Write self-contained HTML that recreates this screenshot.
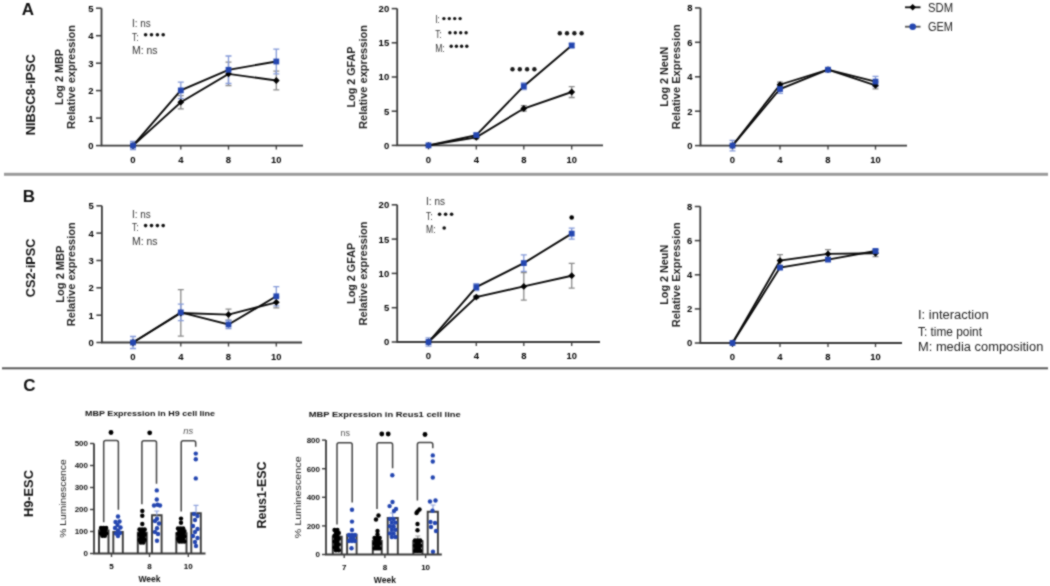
<!DOCTYPE html><html><head><meta charset="utf-8"><style>html,body{margin:0;padding:0;background:#fff;}svg{display:block;}#w{width:1050px;height:586px;will-change:transform;}text{font-family:"Liberation Sans", sans-serif;}</style></head><body>
<div id="w">
<svg width="1050" height="586" viewBox="0 0 1050 586">
<defs><filter id="bl" x="0" y="0" width="1050" height="586" filterUnits="userSpaceOnUse"><feConvolveMatrix color-interpolation-filters="sRGB" order="3" kernelMatrix="1 2 1 2 8 2 1 2 1" divisor="20" edgeMode="duplicate"/></filter></defs><g filter="url(#bl)">
<rect width="1050" height="586" fill="#fff"/>
<text x="28" y="15" font-size="17" font-weight="bold" text-anchor="middle" fill="#111">A</text>
<text x="29" y="201.5" font-size="17" font-weight="bold" text-anchor="middle" fill="#111">B</text>
<text x="29.5" y="391" font-size="17" font-weight="bold" text-anchor="middle" fill="#111">C</text>
<rect x="4" y="172.8" width="1044" height="3" fill="#9a9a9a"/>
<rect x="2" y="367.3" width="1046" height="2" fill="#5a5a5a"/>
<text x="35.5" y="94.7" font-size="13.5" font-weight="bold" text-anchor="middle" fill="#111" transform="rotate(-90 35.5 94.7)" textLength="81" lengthAdjust="spacingAndGlyphs">NIBSC8-iPSC</text>
<text x="35.5" y="267.9" font-size="13.5" font-weight="bold" text-anchor="middle" fill="#111" transform="rotate(-90 35.5 267.9)" textLength="58.5" lengthAdjust="spacingAndGlyphs">CS2-iPSC</text>
<text x="33.5" y="493.6" font-size="13.5" font-weight="bold" text-anchor="middle" fill="#111" transform="rotate(-90 33.5 493.6)" textLength="47" lengthAdjust="spacingAndGlyphs">H9-ESC</text>
<text x="266" y="495" font-size="13.5" font-weight="bold" text-anchor="middle" fill="#111" transform="rotate(-90 266 495)" textLength="67" lengthAdjust="spacingAndGlyphs">Reus1-ESC</text>
<path d="M101.5 8.2 V145.6 H303" stroke="#3a3a3a" stroke-width="1.8" fill="none"/>
<line x1="96.0" y1="145.6" x2="101.5" y2="145.6" stroke="#3a3a3a" stroke-width="1.5"/>
<text x="93.5" y="149.0" font-size="9.5" font-weight="bold" text-anchor="end" fill="#000" textLength="5.3" lengthAdjust="spacingAndGlyphs">0</text>
<line x1="96.0" y1="118.1" x2="101.5" y2="118.1" stroke="#3a3a3a" stroke-width="1.5"/>
<text x="93.5" y="121.52" font-size="9.5" font-weight="bold" text-anchor="end" fill="#000" textLength="5.3" lengthAdjust="spacingAndGlyphs">1</text>
<line x1="96.0" y1="90.6" x2="101.5" y2="90.6" stroke="#3a3a3a" stroke-width="1.5"/>
<text x="93.5" y="94.03999999999999" font-size="9.5" font-weight="bold" text-anchor="end" fill="#000" textLength="5.3" lengthAdjust="spacingAndGlyphs">2</text>
<line x1="96.0" y1="63.2" x2="101.5" y2="63.2" stroke="#3a3a3a" stroke-width="1.5"/>
<text x="93.5" y="66.56" font-size="9.5" font-weight="bold" text-anchor="end" fill="#000" textLength="5.3" lengthAdjust="spacingAndGlyphs">3</text>
<line x1="96.0" y1="35.7" x2="101.5" y2="35.7" stroke="#3a3a3a" stroke-width="1.5"/>
<text x="93.5" y="39.07999999999999" font-size="9.5" font-weight="bold" text-anchor="end" fill="#000" textLength="5.3" lengthAdjust="spacingAndGlyphs">4</text>
<line x1="96.0" y1="8.2" x2="101.5" y2="8.2" stroke="#3a3a3a" stroke-width="1.5"/>
<text x="93.5" y="11.599999999999989" font-size="9.5" font-weight="bold" text-anchor="end" fill="#000" textLength="5.3" lengthAdjust="spacingAndGlyphs">5</text>
<line x1="133" y1="145.6" x2="133" y2="149.6" stroke="#3a3a3a" stroke-width="1.3"/>
<text x="133" y="163.0" font-size="9.5" font-weight="bold" text-anchor="middle" fill="#000" textLength="5.3" lengthAdjust="spacingAndGlyphs">0</text>
<line x1="180.8" y1="145.6" x2="180.8" y2="149.6" stroke="#3a3a3a" stroke-width="1.3"/>
<text x="180.8" y="163.0" font-size="9.5" font-weight="bold" text-anchor="middle" fill="#000" textLength="5.3" lengthAdjust="spacingAndGlyphs">4</text>
<line x1="228.5" y1="145.6" x2="228.5" y2="149.6" stroke="#3a3a3a" stroke-width="1.3"/>
<text x="228.5" y="163.0" font-size="9.5" font-weight="bold" text-anchor="middle" fill="#000" textLength="5.3" lengthAdjust="spacingAndGlyphs">8</text>
<line x1="276.3" y1="145.6" x2="276.3" y2="149.6" stroke="#3a3a3a" stroke-width="1.3"/>
<text x="276.3" y="163.0" font-size="9.5" font-weight="bold" text-anchor="middle" fill="#000" textLength="10.4" lengthAdjust="spacingAndGlyphs">10</text>
<path d="M180.8 95.6 V108.8 M177.8 95.6 H183.8 M177.8 108.8 H183.8" stroke="#8a8a8a" stroke-width="1.3" fill="none"/>
<path d="M228.5 62.1 V85.7 M225.5 62.1 H231.5 M225.5 85.7 H231.5" stroke="#8a8a8a" stroke-width="1.3" fill="none"/>
<path d="M276.3 71.1 V89.8 M273.3 71.1 H279.3 M273.3 89.8 H279.3" stroke="#8a8a8a" stroke-width="1.3" fill="none"/>
<path d="M133 141.5 V149.7 M130 141.5 H136 M130 149.7 H136" stroke="#8499d8" stroke-width="1.3" fill="none"/>
<path d="M180.8 82.1 V98.6 M177.8 82.1 H183.8 M177.8 98.6 H183.8" stroke="#8499d8" stroke-width="1.3" fill="none"/>
<path d="M228.5 56.0 V83.5 M225.5 56.0 H231.5 M225.5 83.5 H231.5" stroke="#8499d8" stroke-width="1.3" fill="none"/>
<path d="M276.3 49.1 V73.9 M273.3 49.1 H279.3 M273.3 73.9 H279.3" stroke="#8499d8" stroke-width="1.3" fill="none"/>
<polyline points="133,145.6 180.8,102.2 228.5,73.9 276.3,80.5" stroke="#0a0a0a" stroke-width="1.9" fill="none"/>
<polyline points="133,145.6 180.8,90.4 228.5,69.8 276.3,61.5" stroke="#0a0a0a" stroke-width="1.9" fill="none"/>
<path d="M133 142.2 L136.4 145.6 L133 149.0 L129.6 145.6Z" fill="#000"/>
<path d="M180.8 98.8 L184.20000000000002 102.2 L180.8 105.6 L177.4 102.2Z" fill="#000"/>
<path d="M228.5 70.5 L231.9 73.9 L228.5 77.3 L225.1 73.9Z" fill="#000"/>
<path d="M276.3 77.1 L279.7 80.5 L276.3 83.9 L272.90000000000003 80.5Z" fill="#000"/>
<rect x="130.1" y="142.7" width="5.8" height="5.8" fill="#2446b0"/>
<rect x="177.9" y="87.5" width="5.8" height="5.8" fill="#2446b0"/>
<rect x="225.6" y="66.9" width="5.8" height="5.8" fill="#2446b0"/>
<rect x="273.40000000000003" y="58.6" width="5.8" height="5.8" fill="#2446b0"/>
<text x="63.5" y="76.89999999999999" font-size="10" font-weight="bold" text-anchor="middle" fill="#1a1a1a" transform="rotate(-90 63.5 76.89999999999999)" textLength="56" lengthAdjust="spacingAndGlyphs">Log 2 MBP</text>
<text x="75.0" y="76.89999999999999" font-size="10" font-weight="bold" text-anchor="middle" fill="#222" transform="rotate(-90 75.0 76.89999999999999)" textLength="104" lengthAdjust="spacingAndGlyphs">Relative expression</text>
<text x="132" y="26.6" font-size="10" font-weight="normal" text-anchor="start" fill="#333" textLength="18.7" lengthAdjust="spacingAndGlyphs">I: ns</text>
<text x="132" y="40.5" font-size="10" font-weight="normal" text-anchor="start" fill="#333" textLength="6.5" lengthAdjust="spacingAndGlyphs">T:</text>
<circle cx="145.6" cy="34.7" r="1.8" fill="#111"/>
<circle cx="151.5" cy="34.7" r="1.8" fill="#111"/>
<circle cx="157.4" cy="34.7" r="1.8" fill="#111"/>
<circle cx="163.2" cy="34.7" r="1.8" fill="#111"/>
<text x="132" y="54.4" font-size="10" font-weight="normal" text-anchor="start" fill="#333" textLength="25.5" lengthAdjust="spacingAndGlyphs">M: ns</text>
<path d="M397.2 8.6 V145.4 H603" stroke="#3a3a3a" stroke-width="1.8" fill="none"/>
<line x1="391.7" y1="145.4" x2="397.2" y2="145.4" stroke="#3a3a3a" stroke-width="1.5"/>
<text x="389.2" y="148.8" font-size="9.5" font-weight="bold" text-anchor="end" fill="#000" textLength="5.3" lengthAdjust="spacingAndGlyphs">0</text>
<line x1="391.7" y1="111.2" x2="397.2" y2="111.2" stroke="#3a3a3a" stroke-width="1.5"/>
<text x="389.2" y="114.60000000000001" font-size="9.5" font-weight="bold" text-anchor="end" fill="#000" textLength="5.3" lengthAdjust="spacingAndGlyphs">5</text>
<line x1="391.7" y1="77.0" x2="397.2" y2="77.0" stroke="#3a3a3a" stroke-width="1.5"/>
<text x="389.2" y="80.4" font-size="9.5" font-weight="bold" text-anchor="end" fill="#000" textLength="10.6" lengthAdjust="spacingAndGlyphs">10</text>
<line x1="391.7" y1="42.8" x2="397.2" y2="42.8" stroke="#3a3a3a" stroke-width="1.5"/>
<text x="389.2" y="46.199999999999996" font-size="9.5" font-weight="bold" text-anchor="end" fill="#000" textLength="10.6" lengthAdjust="spacingAndGlyphs">15</text>
<line x1="391.7" y1="8.6" x2="397.2" y2="8.6" stroke="#3a3a3a" stroke-width="1.5"/>
<text x="389.2" y="11.999999999999995" font-size="9.5" font-weight="bold" text-anchor="end" fill="#000" textLength="10.6" lengthAdjust="spacingAndGlyphs">20</text>
<line x1="428.5" y1="145.4" x2="428.5" y2="149.4" stroke="#3a3a3a" stroke-width="1.3"/>
<text x="428.5" y="162.8" font-size="9.5" font-weight="bold" text-anchor="middle" fill="#000" textLength="5.3" lengthAdjust="spacingAndGlyphs">0</text>
<line x1="476.3" y1="145.4" x2="476.3" y2="149.4" stroke="#3a3a3a" stroke-width="1.3"/>
<text x="476.3" y="162.8" font-size="9.5" font-weight="bold" text-anchor="middle" fill="#000" textLength="5.3" lengthAdjust="spacingAndGlyphs">4</text>
<line x1="523.8" y1="145.4" x2="523.8" y2="149.4" stroke="#3a3a3a" stroke-width="1.3"/>
<text x="523.8" y="162.8" font-size="9.5" font-weight="bold" text-anchor="middle" fill="#000" textLength="5.3" lengthAdjust="spacingAndGlyphs">8</text>
<line x1="571.7" y1="145.4" x2="571.7" y2="149.4" stroke="#3a3a3a" stroke-width="1.3"/>
<text x="571.7" y="162.8" font-size="9.5" font-weight="bold" text-anchor="middle" fill="#000" textLength="10.4" lengthAdjust="spacingAndGlyphs">10</text>
<path d="M476.3 136.0 V138.8 M473.3 136.0 H479.3 M473.3 138.8 H479.3" stroke="#8a8a8a" stroke-width="1.3" fill="none"/>
<path d="M523.8 105.7 V111.2 M520.8 105.7 H526.8 M520.8 111.2 H526.8" stroke="#8a8a8a" stroke-width="1.3" fill="none"/>
<path d="M571.7 86.6 V97.5 M568.7 86.6 H574.7 M568.7 97.5 H574.7" stroke="#8a8a8a" stroke-width="1.3" fill="none"/>
<path d="M476.3 133.8 V136.5 M473.3 133.8 H479.3 M473.3 136.5 H479.3" stroke="#8499d8" stroke-width="1.3" fill="none"/>
<path d="M523.8 82.8 V89.7 M520.8 82.8 H526.8 M520.8 89.7 H526.8" stroke="#8499d8" stroke-width="1.3" fill="none"/>
<path d="M571.7 43.5 V47.6 M568.7 43.5 H574.7 M568.7 47.6 H574.7" stroke="#8499d8" stroke-width="1.3" fill="none"/>
<polyline points="428.5,145.4 476.3,137.4 523.8,108.5 571.7,92.0" stroke="#0a0a0a" stroke-width="1.9" fill="none"/>
<polyline points="428.5,145.4 476.3,135.1 523.8,86.2 571.7,45.5" stroke="#0a0a0a" stroke-width="1.9" fill="none"/>
<path d="M428.5 142.0 L431.9 145.4 L428.5 148.8 L425.1 145.4Z" fill="#000"/>
<path d="M476.3 134.0 L479.7 137.4 L476.3 140.8 L472.90000000000003 137.4Z" fill="#000"/>
<path d="M523.8 105.1 L527.1999999999999 108.5 L523.8 111.9 L520.4 108.5Z" fill="#000"/>
<path d="M571.7 88.6 L575.1 92.0 L571.7 95.4 L568.3000000000001 92.0Z" fill="#000"/>
<rect x="425.6" y="142.5" width="5.8" height="5.8" fill="#2446b0"/>
<rect x="473.40000000000003" y="132.2" width="5.8" height="5.8" fill="#2446b0"/>
<rect x="520.9" y="83.3" width="5.8" height="5.8" fill="#2446b0"/>
<rect x="568.8000000000001" y="42.6" width="5.8" height="5.8" fill="#2446b0"/>
<text x="355.3" y="77.0" font-size="10" font-weight="bold" text-anchor="middle" fill="#1a1a1a" transform="rotate(-90 355.3 77.0)" textLength="61" lengthAdjust="spacingAndGlyphs">Log 2 GFAP</text>
<text x="366.8" y="77.0" font-size="10" font-weight="bold" text-anchor="middle" fill="#222" transform="rotate(-90 366.8 77.0)" textLength="104" lengthAdjust="spacingAndGlyphs">Relative expression</text>
<text x="435.2" y="23" font-size="10" font-weight="normal" text-anchor="start" fill="#333" textLength="4.5" lengthAdjust="spacingAndGlyphs">I:</text>
<circle cx="443.9" cy="18.6" r="1.7" fill="#111"/>
<circle cx="449.3" cy="18.6" r="1.7" fill="#111"/>
<circle cx="454.7" cy="18.6" r="1.7" fill="#111"/>
<circle cx="460.1" cy="18.6" r="1.7" fill="#111"/>
<text x="435.2" y="37.6" font-size="10" font-weight="normal" text-anchor="start" fill="#333" textLength="6.5" lengthAdjust="spacingAndGlyphs">T:</text>
<circle cx="449.9" cy="32.8" r="1.7" fill="#111"/>
<circle cx="455.3" cy="32.8" r="1.7" fill="#111"/>
<circle cx="460.7" cy="32.8" r="1.7" fill="#111"/>
<circle cx="466.1" cy="32.8" r="1.7" fill="#111"/>
<text x="435.2" y="51.5" font-size="10" font-weight="normal" text-anchor="start" fill="#333" textLength="9.5" lengthAdjust="spacingAndGlyphs">M:</text>
<circle cx="451.2" cy="46.3" r="1.7" fill="#111"/>
<circle cx="456.4" cy="46.3" r="1.7" fill="#111"/>
<circle cx="461.6" cy="46.3" r="1.7" fill="#111"/>
<circle cx="466.8" cy="46.3" r="1.7" fill="#111"/>
<circle cx="512.5" cy="69.3" r="2.2" fill="#1a1a1a"/>
<circle cx="519.8" cy="69.3" r="2.2" fill="#1a1a1a"/>
<circle cx="527.1" cy="69.3" r="2.2" fill="#1a1a1a"/>
<circle cx="534.4" cy="69.3" r="2.2" fill="#1a1a1a"/>
<circle cx="559.8" cy="33.3" r="2.2" fill="#1a1a1a"/>
<circle cx="567.0" cy="33.3" r="2.2" fill="#1a1a1a"/>
<circle cx="574.4" cy="33.3" r="2.2" fill="#1a1a1a"/>
<circle cx="581.6" cy="33.3" r="2.2" fill="#1a1a1a"/>
<path d="M700.5 7.9 V145.6 H907" stroke="#3a3a3a" stroke-width="1.8" fill="none"/>
<line x1="695.0" y1="145.6" x2="700.5" y2="145.6" stroke="#3a3a3a" stroke-width="1.5"/>
<text x="692.5" y="149.0" font-size="9.5" font-weight="bold" text-anchor="end" fill="#000" textLength="5.3" lengthAdjust="spacingAndGlyphs">0</text>
<line x1="695.0" y1="111.2" x2="700.5" y2="111.2" stroke="#3a3a3a" stroke-width="1.5"/>
<text x="692.5" y="114.575" font-size="9.5" font-weight="bold" text-anchor="end" fill="#000" textLength="5.3" lengthAdjust="spacingAndGlyphs">2</text>
<line x1="695.0" y1="76.8" x2="700.5" y2="76.8" stroke="#3a3a3a" stroke-width="1.5"/>
<text x="692.5" y="80.15" font-size="9.5" font-weight="bold" text-anchor="end" fill="#000" textLength="5.3" lengthAdjust="spacingAndGlyphs">4</text>
<line x1="695.0" y1="42.3" x2="700.5" y2="42.3" stroke="#3a3a3a" stroke-width="1.5"/>
<text x="692.5" y="45.725" font-size="9.5" font-weight="bold" text-anchor="end" fill="#000" textLength="5.3" lengthAdjust="spacingAndGlyphs">6</text>
<line x1="695.0" y1="7.9" x2="700.5" y2="7.9" stroke="#3a3a3a" stroke-width="1.5"/>
<text x="692.5" y="11.300000000000006" font-size="9.5" font-weight="bold" text-anchor="end" fill="#000" textLength="5.3" lengthAdjust="spacingAndGlyphs">8</text>
<line x1="732.5" y1="145.6" x2="732.5" y2="149.6" stroke="#3a3a3a" stroke-width="1.3"/>
<text x="732.5" y="163.0" font-size="9.5" font-weight="bold" text-anchor="middle" fill="#000" textLength="5.3" lengthAdjust="spacingAndGlyphs">0</text>
<line x1="780" y1="145.6" x2="780" y2="149.6" stroke="#3a3a3a" stroke-width="1.3"/>
<text x="780" y="163.0" font-size="9.5" font-weight="bold" text-anchor="middle" fill="#000" textLength="5.3" lengthAdjust="spacingAndGlyphs">4</text>
<line x1="828" y1="145.6" x2="828" y2="149.6" stroke="#3a3a3a" stroke-width="1.3"/>
<text x="828" y="163.0" font-size="9.5" font-weight="bold" text-anchor="middle" fill="#000" textLength="5.3" lengthAdjust="spacingAndGlyphs">8</text>
<line x1="875.5" y1="145.6" x2="875.5" y2="149.6" stroke="#3a3a3a" stroke-width="1.3"/>
<text x="875.5" y="163.0" font-size="9.5" font-weight="bold" text-anchor="middle" fill="#000" textLength="10.4" lengthAdjust="spacingAndGlyphs">10</text>
<path d="M780 82.1 V87.2 M777 82.1 H783 M777 87.2 H783" stroke="#8a8a8a" stroke-width="1.3" fill="none"/>
<path d="M828 68.8 V70.6 M825 68.8 H831 M825 70.6 H831" stroke="#8a8a8a" stroke-width="1.3" fill="none"/>
<path d="M875.5 81.9 V88.8 M872.5 81.9 H878.5 M872.5 88.8 H878.5" stroke="#8a8a8a" stroke-width="1.3" fill="none"/>
<path d="M732.5 140.4 V150.8 M729.5 140.4 H735.5 M729.5 150.8 H735.5" stroke="#8499d8" stroke-width="1.3" fill="none"/>
<path d="M780 84.7 V93.3 M777 84.7 H783 M777 93.3 H783" stroke="#8499d8" stroke-width="1.3" fill="none"/>
<path d="M828 68.8 V70.6 M825 68.8 H831 M825 70.6 H831" stroke="#8499d8" stroke-width="1.3" fill="none"/>
<path d="M875.5 76.4 V86.7 M872.5 76.4 H878.5 M872.5 86.7 H878.5" stroke="#8499d8" stroke-width="1.3" fill="none"/>
<polyline points="732.5,145.6 780,84.7 828,69.7 875.5,85.4" stroke="#0a0a0a" stroke-width="1.9" fill="none"/>
<polyline points="732.5,145.6 780,89.0 828,69.7 875.5,81.6" stroke="#0a0a0a" stroke-width="1.9" fill="none"/>
<path d="M732.5 142.2 L735.9 145.6 L732.5 149.0 L729.1 145.6Z" fill="#000"/>
<path d="M780 81.3 L783.4 84.7 L780 88.1 L776.6 84.7Z" fill="#000"/>
<path d="M828 66.3 L831.4 69.7 L828 73.1 L824.6 69.7Z" fill="#000"/>
<path d="M875.5 82.0 L878.9 85.4 L875.5 88.8 L872.1 85.4Z" fill="#000"/>
<rect x="729.6" y="142.7" width="5.8" height="5.8" fill="#2446b0"/>
<rect x="777.1" y="86.1" width="5.8" height="5.8" fill="#2446b0"/>
<rect x="825.1" y="66.8" width="5.8" height="5.8" fill="#2446b0"/>
<rect x="872.6" y="78.7" width="5.8" height="5.8" fill="#2446b0"/>
<text x="668" y="76.75" font-size="10" font-weight="bold" text-anchor="middle" fill="#1a1a1a" transform="rotate(-90 668 76.75)" textLength="60" lengthAdjust="spacingAndGlyphs">Log 2 NeuN</text>
<text x="679.5" y="76.75" font-size="10" font-weight="bold" text-anchor="middle" fill="#222" transform="rotate(-90 679.5 76.75)" textLength="105" lengthAdjust="spacingAndGlyphs">Relative Expression</text>
<line x1="905" y1="7.3" x2="920.5" y2="7.3" stroke="#111" stroke-width="1.8"/>
<path d="M912.7 4 L916 7.3 L912.7 10.6 L909.4 7.3Z" fill="#000"/>
<line x1="905" y1="26.7" x2="920.5" y2="26.7" stroke="#555" stroke-width="1.8"/>
<circle cx="912.7" cy="26.7" r="3.3" fill="#2446b0"/>
<text x="928" y="11.5" font-size="12.5" font-weight="normal" text-anchor="start" fill="#222" textLength="25" lengthAdjust="spacingAndGlyphs">SDM</text>
<text x="928" y="30.8" font-size="12.5" font-weight="normal" text-anchor="start" fill="#222" textLength="25" lengthAdjust="spacingAndGlyphs">GEM</text>
<path d="M101.9 205.8 V342.5 H302" stroke="#3a3a3a" stroke-width="1.8" fill="none"/>
<line x1="96.4" y1="342.5" x2="101.9" y2="342.5" stroke="#3a3a3a" stroke-width="1.5"/>
<text x="93.9" y="345.9" font-size="9.5" font-weight="bold" text-anchor="end" fill="#000" textLength="5.3" lengthAdjust="spacingAndGlyphs">0</text>
<line x1="96.4" y1="315.2" x2="101.9" y2="315.2" stroke="#3a3a3a" stroke-width="1.5"/>
<text x="93.9" y="318.56" font-size="9.5" font-weight="bold" text-anchor="end" fill="#000" textLength="5.3" lengthAdjust="spacingAndGlyphs">1</text>
<line x1="96.4" y1="287.8" x2="101.9" y2="287.8" stroke="#3a3a3a" stroke-width="1.5"/>
<text x="93.9" y="291.21999999999997" font-size="9.5" font-weight="bold" text-anchor="end" fill="#000" textLength="5.3" lengthAdjust="spacingAndGlyphs">2</text>
<line x1="96.4" y1="260.5" x2="101.9" y2="260.5" stroke="#3a3a3a" stroke-width="1.5"/>
<text x="93.9" y="263.88" font-size="9.5" font-weight="bold" text-anchor="end" fill="#000" textLength="5.3" lengthAdjust="spacingAndGlyphs">3</text>
<line x1="96.4" y1="233.1" x2="101.9" y2="233.1" stroke="#3a3a3a" stroke-width="1.5"/>
<text x="93.9" y="236.54000000000002" font-size="9.5" font-weight="bold" text-anchor="end" fill="#000" textLength="5.3" lengthAdjust="spacingAndGlyphs">4</text>
<line x1="96.4" y1="205.8" x2="101.9" y2="205.8" stroke="#3a3a3a" stroke-width="1.5"/>
<text x="93.9" y="209.20000000000002" font-size="9.5" font-weight="bold" text-anchor="end" fill="#000" textLength="5.3" lengthAdjust="spacingAndGlyphs">5</text>
<line x1="133" y1="342.5" x2="133" y2="346.5" stroke="#3a3a3a" stroke-width="1.3"/>
<text x="133" y="359.9" font-size="9.5" font-weight="bold" text-anchor="middle" fill="#000" textLength="5.3" lengthAdjust="spacingAndGlyphs">0</text>
<line x1="180.8" y1="342.5" x2="180.8" y2="346.5" stroke="#3a3a3a" stroke-width="1.3"/>
<text x="180.8" y="359.9" font-size="9.5" font-weight="bold" text-anchor="middle" fill="#000" textLength="5.3" lengthAdjust="spacingAndGlyphs">4</text>
<line x1="228.5" y1="342.5" x2="228.5" y2="346.5" stroke="#3a3a3a" stroke-width="1.3"/>
<text x="228.5" y="359.9" font-size="9.5" font-weight="bold" text-anchor="middle" fill="#000" textLength="5.3" lengthAdjust="spacingAndGlyphs">8</text>
<line x1="276.3" y1="342.5" x2="276.3" y2="346.5" stroke="#3a3a3a" stroke-width="1.3"/>
<text x="276.3" y="359.9" font-size="9.5" font-weight="bold" text-anchor="middle" fill="#000" textLength="10.4" lengthAdjust="spacingAndGlyphs">10</text>
<path d="M180.8 289.7 V336.2 M177.8 289.7 H183.8 M177.8 336.2 H183.8" stroke="#8a8a8a" stroke-width="1.3" fill="none"/>
<path d="M228.5 309.1 V320.1 M225.5 309.1 H231.5 M225.5 320.1 H231.5" stroke="#8a8a8a" stroke-width="1.3" fill="none"/>
<path d="M276.3 296.8 V307.8 M273.3 296.8 H279.3 M273.3 307.8 H279.3" stroke="#8a8a8a" stroke-width="1.3" fill="none"/>
<path d="M133 336.5 V348.5 M130 336.5 H136 M130 348.5 H136" stroke="#8499d8" stroke-width="1.3" fill="none"/>
<path d="M180.8 304.2 V320.6 M177.8 304.2 H183.8 M177.8 320.6 H183.8" stroke="#8499d8" stroke-width="1.3" fill="none"/>
<path d="M228.5 320.4 V328.6 M225.5 320.4 H231.5 M225.5 328.6 H231.5" stroke="#8499d8" stroke-width="1.3" fill="none"/>
<path d="M276.3 286.7 V305.9 M273.3 286.7 H279.3 M273.3 305.9 H279.3" stroke="#8499d8" stroke-width="1.3" fill="none"/>
<polyline points="133,342.5 180.8,313.0 228.5,314.6 276.3,302.3" stroke="#0a0a0a" stroke-width="1.9" fill="none"/>
<polyline points="133,342.5 180.8,312.4 228.5,324.5 276.3,296.3" stroke="#0a0a0a" stroke-width="1.9" fill="none"/>
<path d="M133 339.1 L136.4 342.5 L133 345.9 L129.6 342.5Z" fill="#000"/>
<path d="M180.8 309.6 L184.20000000000002 313.0 L180.8 316.4 L177.4 313.0Z" fill="#000"/>
<path d="M228.5 311.2 L231.9 314.6 L228.5 318.0 L225.1 314.6Z" fill="#000"/>
<path d="M276.3 298.9 L279.7 302.3 L276.3 305.7 L272.90000000000003 302.3Z" fill="#000"/>
<rect x="130.1" y="339.6" width="5.8" height="5.8" fill="#2446b0"/>
<rect x="177.9" y="309.5" width="5.8" height="5.8" fill="#2446b0"/>
<rect x="225.6" y="321.6" width="5.8" height="5.8" fill="#2446b0"/>
<rect x="273.40000000000003" y="293.4" width="5.8" height="5.8" fill="#2446b0"/>
<text x="63.8" y="274.15" font-size="10" font-weight="bold" text-anchor="middle" fill="#1a1a1a" transform="rotate(-90 63.8 274.15)" textLength="57" lengthAdjust="spacingAndGlyphs">Log 2 MBP</text>
<text x="75.3" y="274.15" font-size="10" font-weight="bold" text-anchor="middle" fill="#222" transform="rotate(-90 75.3 274.15)" textLength="104" lengthAdjust="spacingAndGlyphs">Relative expression</text>
<text x="132" y="217.9" font-size="10" font-weight="normal" text-anchor="start" fill="#333" textLength="18.7" lengthAdjust="spacingAndGlyphs">I: ns</text>
<text x="132" y="231.4" font-size="10" font-weight="normal" text-anchor="start" fill="#333" textLength="6.5" lengthAdjust="spacingAndGlyphs">T:</text>
<circle cx="145.6" cy="225.6" r="1.8" fill="#111"/>
<circle cx="151.5" cy="225.6" r="1.8" fill="#111"/>
<circle cx="157.4" cy="225.6" r="1.8" fill="#111"/>
<circle cx="163.2" cy="225.6" r="1.8" fill="#111"/>
<text x="132" y="244.8" font-size="10" font-weight="normal" text-anchor="start" fill="#333" textLength="25.5" lengthAdjust="spacingAndGlyphs">M: ns</text>
<path d="M397.2 204.8 V342.0 H600" stroke="#3a3a3a" stroke-width="1.8" fill="none"/>
<line x1="391.7" y1="342.0" x2="397.2" y2="342.0" stroke="#3a3a3a" stroke-width="1.5"/>
<text x="389.2" y="345.4" font-size="9.5" font-weight="bold" text-anchor="end" fill="#000" textLength="5.3" lengthAdjust="spacingAndGlyphs">0</text>
<line x1="391.7" y1="307.7" x2="397.2" y2="307.7" stroke="#3a3a3a" stroke-width="1.5"/>
<text x="389.2" y="311.09999999999997" font-size="9.5" font-weight="bold" text-anchor="end" fill="#000" textLength="5.3" lengthAdjust="spacingAndGlyphs">5</text>
<line x1="391.7" y1="273.4" x2="397.2" y2="273.4" stroke="#3a3a3a" stroke-width="1.5"/>
<text x="389.2" y="276.79999999999995" font-size="9.5" font-weight="bold" text-anchor="end" fill="#000" textLength="10.6" lengthAdjust="spacingAndGlyphs">10</text>
<line x1="391.7" y1="239.1" x2="397.2" y2="239.1" stroke="#3a3a3a" stroke-width="1.5"/>
<text x="389.2" y="242.50000000000003" font-size="9.5" font-weight="bold" text-anchor="end" fill="#000" textLength="10.6" lengthAdjust="spacingAndGlyphs">15</text>
<line x1="391.7" y1="204.8" x2="397.2" y2="204.8" stroke="#3a3a3a" stroke-width="1.5"/>
<text x="389.2" y="208.20000000000002" font-size="9.5" font-weight="bold" text-anchor="end" fill="#000" textLength="10.6" lengthAdjust="spacingAndGlyphs">20</text>
<line x1="428.5" y1="342.0" x2="428.5" y2="346.0" stroke="#3a3a3a" stroke-width="1.3"/>
<text x="428.5" y="359.4" font-size="9.5" font-weight="bold" text-anchor="middle" fill="#000" textLength="5.3" lengthAdjust="spacingAndGlyphs">0</text>
<line x1="476.3" y1="342.0" x2="476.3" y2="346.0" stroke="#3a3a3a" stroke-width="1.3"/>
<text x="476.3" y="359.4" font-size="9.5" font-weight="bold" text-anchor="middle" fill="#000" textLength="5.3" lengthAdjust="spacingAndGlyphs">4</text>
<line x1="523.8" y1="342.0" x2="523.8" y2="346.0" stroke="#3a3a3a" stroke-width="1.3"/>
<text x="523.8" y="359.4" font-size="9.5" font-weight="bold" text-anchor="middle" fill="#000" textLength="5.3" lengthAdjust="spacingAndGlyphs">8</text>
<line x1="571.7" y1="342.0" x2="571.7" y2="346.0" stroke="#3a3a3a" stroke-width="1.3"/>
<text x="571.7" y="359.4" font-size="9.5" font-weight="bold" text-anchor="middle" fill="#000" textLength="10.4" lengthAdjust="spacingAndGlyphs">10</text>
<path d="M476.3 295.7 V298.4 M473.3 295.7 H479.3 M473.3 298.4 H479.3" stroke="#8a8a8a" stroke-width="1.3" fill="none"/>
<path d="M523.8 272.7 V300.2 M520.8 272.7 H526.8 M520.8 300.2 H526.8" stroke="#8a8a8a" stroke-width="1.3" fill="none"/>
<path d="M571.7 263.4 V288.1 M568.7 263.4 H574.7 M568.7 288.1 H574.7" stroke="#8a8a8a" stroke-width="1.3" fill="none"/>
<path d="M428.5 337.9 V346.1 M425.5 337.9 H431.5 M425.5 346.1 H431.5" stroke="#8499d8" stroke-width="1.3" fill="none"/>
<path d="M476.3 283.7 V290.6 M473.3 283.7 H479.3 M473.3 290.6 H479.3" stroke="#8499d8" stroke-width="1.3" fill="none"/>
<path d="M523.8 254.9 V271.3 M520.8 254.9 H526.8 M520.8 271.3 H526.8" stroke="#8499d8" stroke-width="1.3" fill="none"/>
<path d="M571.7 228.1 V239.1 M568.7 228.1 H574.7 M568.7 239.1 H574.7" stroke="#8499d8" stroke-width="1.3" fill="none"/>
<polyline points="428.5,342.0 476.3,297.1 523.8,286.4 571.7,275.7" stroke="#0a0a0a" stroke-width="1.9" fill="none"/>
<polyline points="428.5,342.0 476.3,287.1 523.8,263.1 571.7,233.6" stroke="#0a0a0a" stroke-width="1.9" fill="none"/>
<path d="M428.5 338.6 L431.9 342.0 L428.5 345.4 L425.1 342.0Z" fill="#000"/>
<path d="M476.3 293.7 L479.7 297.1 L476.3 300.5 L472.90000000000003 297.1Z" fill="#000"/>
<path d="M523.8 283.0 L527.1999999999999 286.4 L523.8 289.8 L520.4 286.4Z" fill="#000"/>
<path d="M571.7 272.3 L575.1 275.7 L571.7 279.1 L568.3000000000001 275.7Z" fill="#000"/>
<rect x="425.6" y="339.1" width="5.8" height="5.8" fill="#2446b0"/>
<rect x="473.40000000000003" y="284.2" width="5.8" height="5.8" fill="#2446b0"/>
<rect x="520.9" y="260.2" width="5.8" height="5.8" fill="#2446b0"/>
<rect x="568.8000000000001" y="230.7" width="5.8" height="5.8" fill="#2446b0"/>
<text x="355.3" y="273.4" font-size="10" font-weight="bold" text-anchor="middle" fill="#1a1a1a" transform="rotate(-90 355.3 273.4)" textLength="61" lengthAdjust="spacingAndGlyphs">Log 2 GFAP</text>
<text x="366.8" y="273.4" font-size="10" font-weight="bold" text-anchor="middle" fill="#222" transform="rotate(-90 366.8 273.4)" textLength="104" lengthAdjust="spacingAndGlyphs">Relative expression</text>
<text x="426.1" y="205.4" font-size="10" font-weight="normal" text-anchor="start" fill="#333" textLength="18.9" lengthAdjust="spacingAndGlyphs">I: ns</text>
<text x="426.1" y="219.6" font-size="10" font-weight="normal" text-anchor="start" fill="#333" textLength="6.5" lengthAdjust="spacingAndGlyphs">T:</text>
<circle cx="439.6" cy="214.2" r="1.8" fill="#111"/>
<circle cx="445.6" cy="214.2" r="1.8" fill="#111"/>
<circle cx="451.6" cy="214.2" r="1.8" fill="#111"/>
<text x="426.1" y="233" font-size="10" font-weight="normal" text-anchor="start" fill="#333" textLength="9.5" lengthAdjust="spacingAndGlyphs">M:</text>
<circle cx="444.2" cy="228" r="1.8" fill="#111"/>
<circle cx="571.7" cy="217.5" r="2.3" fill="#000"/>
<path d="M700.3 206.5 V343.0 H902" stroke="#3a3a3a" stroke-width="1.8" fill="none"/>
<line x1="694.8" y1="343.0" x2="700.3" y2="343.0" stroke="#3a3a3a" stroke-width="1.5"/>
<text x="692.3" y="346.4" font-size="9.5" font-weight="bold" text-anchor="end" fill="#000" textLength="5.3" lengthAdjust="spacingAndGlyphs">0</text>
<line x1="694.8" y1="308.9" x2="700.3" y2="308.9" stroke="#3a3a3a" stroke-width="1.5"/>
<text x="692.3" y="312.275" font-size="9.5" font-weight="bold" text-anchor="end" fill="#000" textLength="5.3" lengthAdjust="spacingAndGlyphs">2</text>
<line x1="694.8" y1="274.8" x2="700.3" y2="274.8" stroke="#3a3a3a" stroke-width="1.5"/>
<text x="692.3" y="278.15" font-size="9.5" font-weight="bold" text-anchor="end" fill="#000" textLength="5.3" lengthAdjust="spacingAndGlyphs">4</text>
<line x1="694.8" y1="240.6" x2="700.3" y2="240.6" stroke="#3a3a3a" stroke-width="1.5"/>
<text x="692.3" y="244.025" font-size="9.5" font-weight="bold" text-anchor="end" fill="#000" textLength="5.3" lengthAdjust="spacingAndGlyphs">6</text>
<line x1="694.8" y1="206.5" x2="700.3" y2="206.5" stroke="#3a3a3a" stroke-width="1.5"/>
<text x="692.3" y="209.9" font-size="9.5" font-weight="bold" text-anchor="end" fill="#000" textLength="5.3" lengthAdjust="spacingAndGlyphs">8</text>
<line x1="732.5" y1="343.0" x2="732.5" y2="347.0" stroke="#3a3a3a" stroke-width="1.3"/>
<text x="732.5" y="360.4" font-size="9.5" font-weight="bold" text-anchor="middle" fill="#000" textLength="5.3" lengthAdjust="spacingAndGlyphs">0</text>
<line x1="780" y1="343.0" x2="780" y2="347.0" stroke="#3a3a3a" stroke-width="1.3"/>
<text x="780" y="360.4" font-size="9.5" font-weight="bold" text-anchor="middle" fill="#000" textLength="5.3" lengthAdjust="spacingAndGlyphs">4</text>
<line x1="828" y1="343.0" x2="828" y2="347.0" stroke="#3a3a3a" stroke-width="1.3"/>
<text x="828" y="360.4" font-size="9.5" font-weight="bold" text-anchor="middle" fill="#000" textLength="5.3" lengthAdjust="spacingAndGlyphs">8</text>
<line x1="875.5" y1="343.0" x2="875.5" y2="347.0" stroke="#3a3a3a" stroke-width="1.3"/>
<text x="875.5" y="360.4" font-size="9.5" font-weight="bold" text-anchor="middle" fill="#000" textLength="10.4" lengthAdjust="spacingAndGlyphs">10</text>
<path d="M780 254.6 V266.6 M777 254.6 H783 M777 266.6 H783" stroke="#8a8a8a" stroke-width="1.3" fill="none"/>
<path d="M828 249.7 V258.2 M825 249.7 H831 M825 258.2 H831" stroke="#8a8a8a" stroke-width="1.3" fill="none"/>
<path d="M875.5 249.8 V256.7 M872.5 249.8 H878.5 M872.5 256.7 H878.5" stroke="#8a8a8a" stroke-width="1.3" fill="none"/>
<path d="M780 265.9 V269.3 M777 265.9 H783 M777 269.3 H783" stroke="#8499d8" stroke-width="1.3" fill="none"/>
<path d="M828 257.9 V261.3 M825 257.9 H831 M825 261.3 H831" stroke="#8499d8" stroke-width="1.3" fill="none"/>
<path d="M875.5 249.3 V252.7 M872.5 249.3 H878.5 M872.5 252.7 H878.5" stroke="#8499d8" stroke-width="1.3" fill="none"/>
<polyline points="732.5,343.0 780,260.6 828,253.9 875.5,253.3" stroke="#0a0a0a" stroke-width="1.9" fill="none"/>
<polyline points="732.5,343.0 780,267.6 828,259.6 875.5,251.0" stroke="#0a0a0a" stroke-width="1.9" fill="none"/>
<path d="M732.5 339.6 L735.9 343.0 L732.5 346.4 L729.1 343.0Z" fill="#000"/>
<path d="M780 257.2 L783.4 260.6 L780 264.0 L776.6 260.6Z" fill="#000"/>
<path d="M828 250.5 L831.4 253.9 L828 257.3 L824.6 253.9Z" fill="#000"/>
<path d="M875.5 249.9 L878.9 253.3 L875.5 256.7 L872.1 253.3Z" fill="#000"/>
<rect x="729.6" y="340.1" width="5.8" height="5.8" fill="#2446b0"/>
<rect x="777.1" y="264.7" width="5.8" height="5.8" fill="#2446b0"/>
<rect x="825.1" y="256.7" width="5.8" height="5.8" fill="#2446b0"/>
<rect x="872.6" y="248.1" width="5.8" height="5.8" fill="#2446b0"/>
<text x="668" y="274.75" font-size="10" font-weight="bold" text-anchor="middle" fill="#1a1a1a" transform="rotate(-90 668 274.75)" textLength="60" lengthAdjust="spacingAndGlyphs">Log 2 NeuN</text>
<text x="679.5" y="274.75" font-size="10" font-weight="bold" text-anchor="middle" fill="#222" transform="rotate(-90 679.5 274.75)" textLength="105" lengthAdjust="spacingAndGlyphs">Relative Expression</text>
<text x="918" y="318.7" font-size="12" font-weight="normal" text-anchor="start" fill="#222" textLength="70.7" lengthAdjust="spacingAndGlyphs">I: interaction</text>
<text x="918" y="336" font-size="12" font-weight="normal" text-anchor="start" fill="#222" textLength="64" lengthAdjust="spacingAndGlyphs">T: time point</text>
<text x="918" y="351.3" font-size="12" font-weight="normal" text-anchor="start" fill="#222" textLength="125.3" lengthAdjust="spacingAndGlyphs">M: media composition</text>
<path d="M103.7 522.2 V442.5 Q103.7 440.5 105.7 440.5 H116.4 Q118.4 440.5 118.4 442.5 V509.7" stroke="#444" stroke-width="1.5" fill="none"/>
<path d="M141.9 504.3 V442.7 Q141.9 440.7 143.9 440.7 H154.5 Q156.5 440.7 156.5 442.7 V483.7" stroke="#444" stroke-width="1.5" fill="none"/>
<path d="M181.2 511.5 V442.7 Q181.2 440.7 183.2 440.7 H193.7 Q195.7 440.7 195.7 442.7 V446.7" stroke="#444" stroke-width="1.5" fill="none"/>
<path d="M99 553.5 V530.4 H108.5 V553.5" stroke="#333" stroke-width="1.9" fill="#fff"/>
<path d="M113.3 553.5 V531.9 H122.8 V553.5" stroke="#3a3a3a" stroke-width="1.9" fill="#fff"/>
<path d="M137.8 553.5 V532.6 H146.7 V553.5" stroke="#333" stroke-width="1.9" fill="#fff"/>
<path d="M152 553.5 V515.3 H161.6 V553.5" stroke="#3a3a3a" stroke-width="1.9" fill="#fff"/>
<path d="M176.3 553.5 V533.3 H186.5 V553.5" stroke="#333" stroke-width="1.9" fill="#fff"/>
<path d="M191.3 553.5 V513.3 H200.8 V553.5" stroke="#3a3a3a" stroke-width="1.9" fill="#fff"/>
<path d="M196 513.5 V505.3 M193.5 505.3 H198.5" stroke="#8fa2dc" stroke-width="1.2" fill="none"/>
<path d="M156.8 515.5 V511 M154.3 511 H159.3" stroke="#8fa2dc" stroke-width="1.2" fill="none"/>
<circle cx="101.0" cy="528" r="2.2" fill="#000"/>
<circle cx="103.6" cy="528" r="2.2" fill="#000"/>
<circle cx="106.2" cy="528" r="2.2" fill="#000"/>
<circle cx="102.3" cy="530.6" r="2.2" fill="#000"/>
<circle cx="104.9" cy="530.6" r="2.2" fill="#000"/>
<circle cx="101.0" cy="533.2" r="2.2" fill="#000"/>
<circle cx="103.6" cy="533.2" r="2.2" fill="#000"/>
<circle cx="106.2" cy="533.2" r="2.2" fill="#000"/>
<circle cx="102.3" cy="535.8" r="2.2" fill="#000"/>
<circle cx="104.9" cy="535.8" r="2.2" fill="#000"/>
<circle cx="115.5" cy="522" r="2.2" fill="#2446b0"/>
<circle cx="119.5" cy="521.5" r="2.2" fill="#2446b0"/>
<circle cx="117.5" cy="525" r="2.2" fill="#2446b0"/>
<circle cx="115" cy="528" r="2.2" fill="#2446b0"/>
<circle cx="120.5" cy="527.5" r="2.2" fill="#2446b0"/>
<circle cx="118" cy="530.5" r="2.2" fill="#2446b0"/>
<circle cx="116" cy="533.5" r="2.2" fill="#2446b0"/>
<circle cx="120" cy="533" r="2.2" fill="#2446b0"/>
<circle cx="118" cy="536" r="2.2" fill="#2446b0"/>
<circle cx="118" cy="516.5" r="2.2" fill="#2446b0"/>
<circle cx="142.3" cy="510.9" r="2.2" fill="#000"/>
<circle cx="142.3" cy="515.7" r="2.2" fill="#000"/>
<circle cx="142.3" cy="524" r="2.2" fill="#000"/>
<circle cx="139.5" cy="529.5" r="2.2" fill="#000"/>
<circle cx="142.1" cy="529.5" r="2.2" fill="#000"/>
<circle cx="144.7" cy="529.5" r="2.2" fill="#000"/>
<circle cx="140.8" cy="532.1" r="2.2" fill="#000"/>
<circle cx="143.4" cy="532.1" r="2.2" fill="#000"/>
<circle cx="139.5" cy="534.7" r="2.2" fill="#000"/>
<circle cx="142.1" cy="534.7" r="2.2" fill="#000"/>
<circle cx="144.7" cy="534.7" r="2.2" fill="#000"/>
<circle cx="140.8" cy="537.3" r="2.2" fill="#000"/>
<circle cx="143.4" cy="537.3" r="2.2" fill="#000"/>
<circle cx="139.5" cy="539.9" r="2.2" fill="#000"/>
<circle cx="142.1" cy="539.9" r="2.2" fill="#000"/>
<circle cx="144.7" cy="539.9" r="2.2" fill="#000"/>
<circle cx="140.8" cy="542.5" r="2.2" fill="#000"/>
<circle cx="143.4" cy="542.5" r="2.2" fill="#000"/>
<circle cx="156.8" cy="490.4" r="2.2" fill="#2446b0"/>
<circle cx="156.8" cy="499.5" r="2.2" fill="#2446b0"/>
<circle cx="154" cy="505.5" r="2.2" fill="#2446b0"/>
<circle cx="157.5" cy="504.8" r="2.2" fill="#2446b0"/>
<circle cx="160" cy="505.5" r="2.2" fill="#2446b0"/>
<circle cx="157" cy="518.7" r="2.2" fill="#2446b0"/>
<circle cx="155" cy="521" r="2.2" fill="#2446b0"/>
<circle cx="159" cy="523.5" r="2.2" fill="#2446b0"/>
<circle cx="157" cy="528.2" r="2.2" fill="#2446b0"/>
<circle cx="155" cy="532" r="2.2" fill="#2446b0"/>
<circle cx="158" cy="534" r="2.2" fill="#2446b0"/>
<circle cx="157" cy="540.7" r="2.2" fill="#2446b0"/>
<circle cx="181" cy="518.6" r="2.2" fill="#000"/>
<circle cx="181" cy="522.8" r="2.2" fill="#000"/>
<circle cx="178.0" cy="528.5" r="2.2" fill="#000"/>
<circle cx="180.6" cy="528.5" r="2.2" fill="#000"/>
<circle cx="183.2" cy="528.5" r="2.2" fill="#000"/>
<circle cx="179.3" cy="531.1" r="2.2" fill="#000"/>
<circle cx="181.9" cy="531.1" r="2.2" fill="#000"/>
<circle cx="184.5" cy="531.1" r="2.2" fill="#000"/>
<circle cx="178.0" cy="533.7" r="2.2" fill="#000"/>
<circle cx="180.6" cy="533.7" r="2.2" fill="#000"/>
<circle cx="183.2" cy="533.7" r="2.2" fill="#000"/>
<circle cx="179.3" cy="536.3" r="2.2" fill="#000"/>
<circle cx="181.9" cy="536.3" r="2.2" fill="#000"/>
<circle cx="184.5" cy="536.3" r="2.2" fill="#000"/>
<circle cx="178.0" cy="538.9" r="2.2" fill="#000"/>
<circle cx="180.6" cy="538.9" r="2.2" fill="#000"/>
<circle cx="183.2" cy="538.9" r="2.2" fill="#000"/>
<circle cx="179.3" cy="541.5" r="2.2" fill="#000"/>
<circle cx="181.9" cy="541.5" r="2.2" fill="#000"/>
<circle cx="184.5" cy="541.5" r="2.2" fill="#000"/>
<circle cx="195.8" cy="453.6" r="2.2" fill="#2446b0"/>
<circle cx="195.8" cy="459.3" r="2.2" fill="#2446b0"/>
<circle cx="195.8" cy="478.4" r="2.2" fill="#2446b0"/>
<circle cx="194" cy="514" r="2.2" fill="#2446b0"/>
<circle cx="197.5" cy="516" r="2.2" fill="#2446b0"/>
<circle cx="195" cy="520" r="2.2" fill="#2446b0"/>
<circle cx="193" cy="526" r="2.2" fill="#2446b0"/>
<circle cx="197.5" cy="529" r="2.2" fill="#2446b0"/>
<circle cx="195" cy="532" r="2.2" fill="#2446b0"/>
<circle cx="193" cy="536" r="2.2" fill="#2446b0"/>
<circle cx="197.5" cy="538" r="2.2" fill="#2446b0"/>
<circle cx="195" cy="542" r="2.2" fill="#2446b0"/>
<circle cx="196" cy="546" r="2.2" fill="#2446b0"/>
<path d="M94 443.5 V553.5 H205.5" stroke="#3a3a3a" stroke-width="1.8" fill="none"/>
<line x1="90" y1="553.5" x2="94" y2="553.5" stroke="#3a3a3a" stroke-width="1.4"/>
<text x="88" y="556.4" font-size="8" font-weight="bold" text-anchor="end" fill="#111">0</text>
<line x1="90" y1="531.5" x2="94" y2="531.5" stroke="#3a3a3a" stroke-width="1.4"/>
<text x="88" y="534.4" font-size="8" font-weight="bold" text-anchor="end" fill="#111">100</text>
<line x1="90" y1="509.5" x2="94" y2="509.5" stroke="#3a3a3a" stroke-width="1.4"/>
<text x="88" y="512.4" font-size="8" font-weight="bold" text-anchor="end" fill="#111">200</text>
<line x1="90" y1="487.5" x2="94" y2="487.5" stroke="#3a3a3a" stroke-width="1.4"/>
<text x="88" y="490.4" font-size="8" font-weight="bold" text-anchor="end" fill="#111">300</text>
<line x1="90" y1="465.5" x2="94" y2="465.5" stroke="#3a3a3a" stroke-width="1.4"/>
<text x="88" y="468.4" font-size="8" font-weight="bold" text-anchor="end" fill="#111">400</text>
<line x1="90" y1="443.5" x2="94" y2="443.5" stroke="#3a3a3a" stroke-width="1.4"/>
<text x="88" y="446.4" font-size="8" font-weight="bold" text-anchor="end" fill="#111">500</text>
<line x1="111.5" y1="553.5" x2="111.5" y2="557.0" stroke="#3a3a3a" stroke-width="1.3"/>
<text x="111.5" y="569.0" font-size="8" font-weight="bold" text-anchor="middle" fill="#000">5</text>
<line x1="149.5" y1="553.5" x2="149.5" y2="557.0" stroke="#3a3a3a" stroke-width="1.3"/>
<text x="149.5" y="569.0" font-size="8" font-weight="bold" text-anchor="middle" fill="#000">8</text>
<line x1="188.3" y1="553.5" x2="188.3" y2="557.0" stroke="#3a3a3a" stroke-width="1.3"/>
<text x="188.3" y="569.0" font-size="8" font-weight="bold" text-anchor="middle" fill="#000">10</text>
<text x="149.5" y="581.5" font-size="8.5" font-weight="bold" text-anchor="middle" fill="#111">Week</text>
<text x="150" y="416.3" font-size="8" font-weight="bold" text-anchor="middle" fill="#111" textLength="130" lengthAdjust="spacingAndGlyphs">MBP Expression in H9 cell line</text>
<circle cx="111.0" cy="432.5" r="2.4" fill="#000"/>
<circle cx="149.7" cy="432.8" r="2.4" fill="#000"/>
<text x="188.2" y="434" font-size="9" font-weight="normal" text-anchor="middle" fill="#555" textLength="10" lengthAdjust="spacingAndGlyphs" font-style="italic">ns</text>
<text x="66" y="498.5" font-size="9" font-weight="normal" text-anchor="middle" fill="#222" transform="rotate(-90 66 498.5)" textLength="78.5" lengthAdjust="spacingAndGlyphs">% Luminescence</text>
<path d="M337 524.6 V444.7 Q337 442.7 339 442.7 H350.2 Q352.2 442.7 352.2 444.7 V502.5" stroke="#444" stroke-width="1.5" fill="none"/>
<path d="M377 509.1 V444.7 Q377 442.7 379 442.7 H390.6 Q392.6 442.7 392.6 444.7 V468.3" stroke="#444" stroke-width="1.5" fill="none"/>
<path d="M417.4 500.5 V444.5 Q417.4 442.5 419.4 442.5 H430.8 Q432.8 442.5 432.8 444.5 V448.2" stroke="#444" stroke-width="1.5" fill="none"/>
<path d="M332.8 554.5 V536.6 H341.7 V554.5" stroke="#333" stroke-width="1.9" fill="#fff"/>
<path d="M347.1 554.5 V534.8 H356.6 V554.5" stroke="#3a3a3a" stroke-width="1.9" fill="#fff"/>
<path d="M372.8 554.5 V540.9 H381.7 V554.5" stroke="#333" stroke-width="1.9" fill="#fff"/>
<path d="M387.7 554.5 V518.0 H397.8 V554.5" stroke="#3a3a3a" stroke-width="1.9" fill="#fff"/>
<path d="M413.3 554.5 V541.3 H422.5 V554.5" stroke="#333" stroke-width="1.9" fill="#fff"/>
<path d="M427.7 554.5 V511.7 H437.9 V554.5" stroke="#3a3a3a" stroke-width="1.9" fill="#fff"/>
<path d="M417.8 541 V536 M415.3 536 H420.3" stroke="#999" stroke-width="1.2" fill="none"/>
<path d="M433 511.5 V505 M430.5 505 H435.5" stroke="#8fa2dc" stroke-width="1.2" fill="none"/>
<path d="M392.6 518 V513 M390.1 513 H395.1" stroke="#8fa2dc" stroke-width="1.2" fill="none"/>
<circle cx="334.5" cy="530" r="2.2" fill="#000"/>
<circle cx="337.4" cy="530" r="2.2" fill="#000"/>
<circle cx="335.9" cy="532.9" r="2.2" fill="#000"/>
<circle cx="338.8" cy="532.9" r="2.2" fill="#000"/>
<circle cx="334.5" cy="535.8" r="2.2" fill="#000"/>
<circle cx="337.4" cy="535.8" r="2.2" fill="#000"/>
<circle cx="335.9" cy="538.7" r="2.2" fill="#000"/>
<circle cx="338.8" cy="538.7" r="2.2" fill="#000"/>
<circle cx="334.5" cy="541.6" r="2.2" fill="#000"/>
<circle cx="337.4" cy="541.6" r="2.2" fill="#000"/>
<circle cx="335.9" cy="544.5" r="2.2" fill="#000"/>
<circle cx="338.8" cy="544.5" r="2.2" fill="#000"/>
<circle cx="334.5" cy="547.4" r="2.2" fill="#000"/>
<circle cx="337.4" cy="547.4" r="2.2" fill="#000"/>
<circle cx="335.9" cy="550.3" r="2.2" fill="#000"/>
<circle cx="338.8" cy="550.3" r="2.2" fill="#000"/>
<circle cx="352" cy="509.7" r="2.2" fill="#2446b0"/>
<circle cx="352" cy="521.6" r="2.2" fill="#2446b0"/>
<circle cx="352" cy="530" r="2.2" fill="#2446b0"/>
<circle cx="349.0" cy="535" r="2.2" fill="#2446b0"/>
<circle cx="352.0" cy="535" r="2.2" fill="#2446b0"/>
<circle cx="355.0" cy="535" r="2.2" fill="#2446b0"/>
<circle cx="350.5" cy="538" r="2.2" fill="#2446b0"/>
<circle cx="353.5" cy="538" r="2.2" fill="#2446b0"/>
<circle cx="349.0" cy="541" r="2.2" fill="#2446b0"/>
<circle cx="352.0" cy="541" r="2.2" fill="#2446b0"/>
<circle cx="355.0" cy="541" r="2.2" fill="#2446b0"/>
<circle cx="351.5" cy="548.3" r="2.2" fill="#2446b0"/>
<circle cx="378.5" cy="515.5" r="2.2" fill="#000"/>
<circle cx="376" cy="519.5" r="2.2" fill="#000"/>
<circle cx="377.5" cy="531" r="2.2" fill="#000"/>
<circle cx="377.5" cy="534.5" r="2.2" fill="#000"/>
<circle cx="374.5" cy="538" r="2.2" fill="#000"/>
<circle cx="377.1" cy="538" r="2.2" fill="#000"/>
<circle cx="379.7" cy="538" r="2.2" fill="#000"/>
<circle cx="375.8" cy="540.6" r="2.2" fill="#000"/>
<circle cx="378.4" cy="540.6" r="2.2" fill="#000"/>
<circle cx="374.5" cy="543.2" r="2.2" fill="#000"/>
<circle cx="377.1" cy="543.2" r="2.2" fill="#000"/>
<circle cx="379.7" cy="543.2" r="2.2" fill="#000"/>
<circle cx="375.8" cy="545.8" r="2.2" fill="#000"/>
<circle cx="378.4" cy="545.8" r="2.2" fill="#000"/>
<circle cx="374.5" cy="548.4" r="2.2" fill="#000"/>
<circle cx="377.1" cy="548.4" r="2.2" fill="#000"/>
<circle cx="379.7" cy="548.4" r="2.2" fill="#000"/>
<circle cx="392.3" cy="475.3" r="2.2" fill="#2446b0"/>
<circle cx="392.5" cy="502" r="2.2" fill="#2446b0"/>
<circle cx="389.6" cy="506.1" r="2.2" fill="#2446b0"/>
<circle cx="394" cy="510.9" r="2.2" fill="#2446b0"/>
<circle cx="396" cy="509" r="2.2" fill="#2446b0"/>
<circle cx="390.0" cy="519" r="2.2" fill="#2446b0"/>
<circle cx="393.6" cy="519" r="2.2" fill="#2446b0"/>
<circle cx="391.8" cy="522.6" r="2.2" fill="#2446b0"/>
<circle cx="395.4" cy="522.6" r="2.2" fill="#2446b0"/>
<circle cx="390.0" cy="526.2" r="2.2" fill="#2446b0"/>
<circle cx="393.6" cy="526.2" r="2.2" fill="#2446b0"/>
<circle cx="391.8" cy="529.8" r="2.2" fill="#2446b0"/>
<circle cx="395.4" cy="529.8" r="2.2" fill="#2446b0"/>
<circle cx="390.0" cy="533.4" r="2.2" fill="#2446b0"/>
<circle cx="393.6" cy="533.4" r="2.2" fill="#2446b0"/>
<circle cx="391.8" cy="537.0" r="2.2" fill="#2446b0"/>
<circle cx="395.4" cy="537.0" r="2.2" fill="#2446b0"/>
<circle cx="419.5" cy="509.5" r="2.2" fill="#000"/>
<circle cx="417.5" cy="511.5" r="2.2" fill="#000"/>
<circle cx="416.5" cy="513" r="2.2" fill="#000"/>
<circle cx="417.5" cy="524" r="2.2" fill="#000"/>
<circle cx="417.5" cy="530.2" r="2.2" fill="#000"/>
<circle cx="415.0" cy="540.5" r="2.2" fill="#000"/>
<circle cx="417.6" cy="540.5" r="2.2" fill="#000"/>
<circle cx="420.2" cy="540.5" r="2.2" fill="#000"/>
<circle cx="416.3" cy="543.1" r="2.2" fill="#000"/>
<circle cx="418.9" cy="543.1" r="2.2" fill="#000"/>
<circle cx="415.0" cy="545.7" r="2.2" fill="#000"/>
<circle cx="417.6" cy="545.7" r="2.2" fill="#000"/>
<circle cx="420.2" cy="545.7" r="2.2" fill="#000"/>
<circle cx="416.3" cy="548.3" r="2.2" fill="#000"/>
<circle cx="418.9" cy="548.3" r="2.2" fill="#000"/>
<circle cx="415.0" cy="550.9" r="2.2" fill="#000"/>
<circle cx="417.6" cy="550.9" r="2.2" fill="#000"/>
<circle cx="420.2" cy="550.9" r="2.2" fill="#000"/>
<circle cx="432.8" cy="455.4" r="2.2" fill="#2446b0"/>
<circle cx="432.8" cy="461.5" r="2.2" fill="#2446b0"/>
<circle cx="432.8" cy="477.5" r="2.2" fill="#2446b0"/>
<circle cx="430" cy="501.5" r="2.2" fill="#2446b0"/>
<circle cx="435.5" cy="500.5" r="2.2" fill="#2446b0"/>
<circle cx="432.5" cy="510.7" r="2.2" fill="#2446b0"/>
<circle cx="430.5" cy="522" r="2.2" fill="#2446b0"/>
<circle cx="435" cy="523" r="2.2" fill="#2446b0"/>
<circle cx="431" cy="527" r="2.2" fill="#2446b0"/>
<circle cx="436" cy="531" r="2.2" fill="#2446b0"/>
<circle cx="433" cy="551.7" r="2.2" fill="#2446b0"/>
<path d="M326 440.1 V554.5 H441.8" stroke="#3a3a3a" stroke-width="1.8" fill="none"/>
<line x1="322" y1="554.5" x2="326" y2="554.5" stroke="#3a3a3a" stroke-width="1.4"/>
<text x="320" y="557.4" font-size="8" font-weight="bold" text-anchor="end" fill="#111">0</text>
<line x1="322" y1="525.9" x2="326" y2="525.9" stroke="#3a3a3a" stroke-width="1.4"/>
<text x="320" y="528.8" font-size="8" font-weight="bold" text-anchor="end" fill="#111">200</text>
<line x1="322" y1="497.3" x2="326" y2="497.3" stroke="#3a3a3a" stroke-width="1.4"/>
<text x="320" y="500.2" font-size="8" font-weight="bold" text-anchor="end" fill="#111">400</text>
<line x1="322" y1="468.7" x2="326" y2="468.7" stroke="#3a3a3a" stroke-width="1.4"/>
<text x="320" y="471.6" font-size="8" font-weight="bold" text-anchor="end" fill="#111">600</text>
<line x1="322" y1="440.1" x2="326" y2="440.1" stroke="#3a3a3a" stroke-width="1.4"/>
<text x="320" y="443.0" font-size="8" font-weight="bold" text-anchor="end" fill="#111">800</text>
<line x1="344.2" y1="554.5" x2="344.2" y2="558.0" stroke="#3a3a3a" stroke-width="1.3"/>
<text x="344.2" y="570.0" font-size="8" font-weight="bold" text-anchor="middle" fill="#000">7</text>
<line x1="384.9" y1="554.5" x2="384.9" y2="558.0" stroke="#3a3a3a" stroke-width="1.3"/>
<text x="384.9" y="570.0" font-size="8" font-weight="bold" text-anchor="middle" fill="#000">8</text>
<line x1="425.6" y1="554.5" x2="425.6" y2="558.0" stroke="#3a3a3a" stroke-width="1.3"/>
<text x="425.6" y="570.0" font-size="8" font-weight="bold" text-anchor="middle" fill="#000">10</text>
<text x="384.9" y="582.5" font-size="8.5" font-weight="bold" text-anchor="middle" fill="#111">Week</text>
<text x="384.7" y="417" font-size="8" font-weight="bold" text-anchor="middle" fill="#111" textLength="152" lengthAdjust="spacingAndGlyphs">MBP Expression in Reus1 cell line</text>
<text x="345.3" y="436" font-size="9" font-weight="normal" text-anchor="middle" fill="#555" textLength="9.5" lengthAdjust="spacingAndGlyphs">ns</text>
<circle cx="381.8" cy="434" r="2.4" fill="#000"/>
<circle cx="388.2" cy="434" r="2.4" fill="#000"/>
<circle cx="425.0" cy="434.5" r="2.4" fill="#000"/>
<text x="301" y="497.3" font-size="9.5" font-weight="normal" text-anchor="middle" fill="#222" transform="rotate(-90 301 497.3)" textLength="82" lengthAdjust="spacingAndGlyphs">% Luminescence</text>
</g></svg></div></body></html>
